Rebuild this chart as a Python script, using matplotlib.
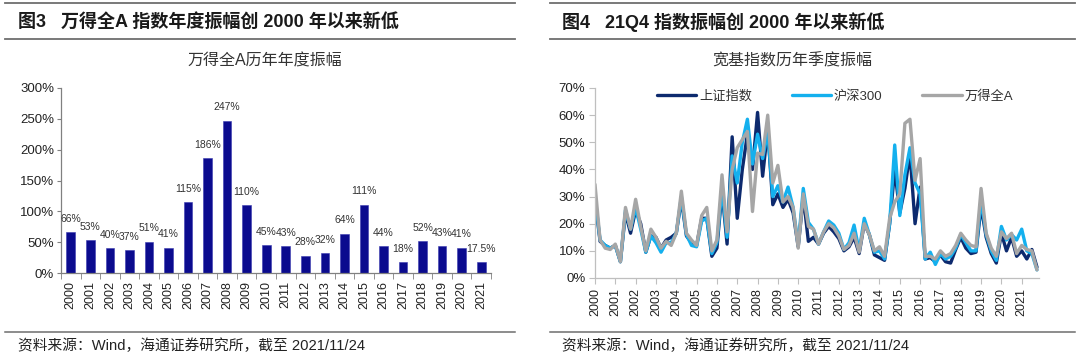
import matplotlib
matplotlib.use("Agg")
import matplotlib.pyplot as plt
from matplotlib.lines import Line2D
from matplotlib.ticker import FuncFormatter, FixedLocator
import numpy as np

plt.rcParams['font.family'] = ['Liberation Sans', 'Noto Sans CJK SC', 'DejaVu Sans']

W, H = 1080, 359

# ---- data: left chart (annual amplitude of Wind All A) ----
years = [str(y) for y in range(2000, 2022)]
annual_amp = [66, 53, 40, 37, 51, 41, 115, 186, 247, 110, 45, 43, 28, 32,
              64, 111, 44, 18, 52, 43, 41, 17.5]

# ---- data: right chart (quarterly amplitude, %, 2000Q1..2021Q4) ----
sh_index = [29, 13.5, 12, 11, 12, 6, 24, 16.5, 25, 20, 9.5, 15.5,
            15, 11, 14, 15, 16.5, 29, 15.5, 13, 12, 22, 22, 8,
            11, 32, 12.5, 52, 22, 40, 53, 40, 61, 37.5, 55, 27,
            31, 26, 29, 24, 11.5, 30, 13.5, 15, 12.5, 16.5, 19, 17,
            14.5, 10, 11.5, 15, 9, 20, 16, 8.5, 7.5, 6.5, 20, 40,
            24, 33, 46, 20, 33.5, 7, 7.5, 6, 8.5, 6, 5.5, 10.5,
            15, 11, 9, 9.5, 26.5, 15, 9, 5.5, 16.5, 10, 15, 8,
            10, 7, 10.5, 4]
hs300 = [30, 14, 12, 11, 12, 6, 25, 18, 26, 18, 9.5, 15.5,
         13, 9.5, 13, 13, 16.5, 30, 16, 12, 11.5, 21, 22, 9,
         13, 33, 15, 45, 35, 50, 58.5, 42, 53, 44, 54, 30,
         34, 28, 33.5, 26, 12, 33, 20.5, 18, 12.5, 17, 21, 19.5,
         16.5, 10.5, 13, 19.5, 10, 22, 16, 9.5, 10, 7, 20, 49,
         23, 38, 48, 35, 31, 7, 9.5, 5, 9, 7, 8, 11,
         16, 13, 10, 10, 29, 16, 10, 6.5, 19, 14, 16, 14,
         18, 10, 9, 3]
wind_a = [34.5, 14, 11, 10.5, 12.5, 6, 26, 18, 29, 19, 10, 18,
          15, 11, 13.5, 12, 16.5, 32, 16.5, 14, 12, 23, 26, 10,
          14, 38, 17, 40, 48, 51, 54, 24.5, 46, 45.5, 60, 35,
          41.5, 28, 30, 26, 11, 31, 19, 18, 12.5, 17, 20, 18.5,
          15.5, 10.5, 12, 16.5, 9.5, 20, 16, 10, 11.5, 8, 22, 28,
          31, 57, 58.5, 36, 44, 8, 8, 7, 10, 8, 9, 12,
          16.5, 14, 12, 11.5, 33, 16.5, 11, 8, 17, 14.5, 16.5, 9,
          12, 10.5, 10, 3]
series_names = ['上证指数', '沪深300', '万得全A']
series_colors = ['#0D2A6E', '#14B0EE', '#A6A6A6']

titles = ['图3   万得全A 指数年度振幅创 2000 年以来新低',
          '图4   21Q4 指数振幅创 2000 年以来新低']
subtitles = ['万得全A历年年度振幅', '宽基指数历年季度振幅']
source = '资料来源：Wind，海通证券研究所，截至 2021/11/24'

fig = plt.figure(figsize=(W / 100, H / 100), dpi=100)


def fx(x):
    return x / W


def fy(y):
    return 1 - y / H


def hline(x0, x1, y, lw=1.2):
    fig.add_artist(Line2D([fx(x0), fx(x1)], [fy(y), fy(y)],
                          transform=fig.transFigure, color='#6E6E6E', lw=lw))


# frame rules and headings
for (x0, x1, tx, sx, srcx), title, sub in zip(
        [(5, 515, 18, 265, 18), (550, 1075, 562, 792, 562)], titles, subtitles):
    hline(x0, x1, 3, 1.3)
    hline(x0, x1, 39, 1.3)
    hline(x0, x1, 332, 1.1)
    fig.text(fx(tx), fy(22), title, fontsize=13, fontweight='bold',
             color='#1A1A1A', va='center', ha='left')
    fig.text(fx(sx), fy(61), sub, fontsize=11.5, color='#333333',
             va='center', ha='center')
    fig.text(fx(srcx), fy(346), source, fontsize=10.6, color='#222222',
             va='center', ha='left')

pct = FuncFormatter(lambda v, p: f'{v:.0f}%')

# ---- left: bar chart ----
ax1 = fig.add_axes([fx(61), fy(273), fx(491) - fx(61), fy(88) - fy(273)])
x = np.arange(len(years))
ax1.bar(x, annual_amp, width=0.44, color='#0B0B8E', edgecolor='#3A3AB0', lw=0.4)
for xi, v in zip(x, annual_amp):
    ax1.annotate(f'{v:g}%', (xi, v), xytext=(0, 6), textcoords='offset points',
                 ha='center', va='bottom', fontsize=7.5, color='#333333')
ax1.set_xlim(-0.5, len(years) - 0.5)
ax1.set_ylim(0, 300)
ax1.set_yticks(np.arange(0, 301, 50))
ax1.yaxis.set_major_formatter(pct)
ax1.set_xticks(x)
ax1.set_xticklabels(years, rotation=90, fontsize=9, color='#222222')
ax1.xaxis.set_minor_locator(FixedLocator(np.arange(-0.5, len(years), 1)))
ax1.tick_params(axis='x', which='major', length=0, pad=6)
ax1.tick_params(axis='x', which='minor', length=4, color='#808080', direction='out')
ax1.tick_params(axis='y', length=3, color='#808080', labelsize=9.5,
                labelcolor='#222222', pad=2)
for s in ['top', 'right']:
    ax1.spines[s].set_visible(False)
for s in ['left', 'bottom']:
    ax1.spines[s].set_color('#808080')
    ax1.spines[s].set_linewidth(0.9)

# ---- right: line chart ----
ax2 = fig.add_axes([fx(595), fy(278), fx(1039) - fx(595), fy(88) - fy(278)])
q = np.arange(len(wind_a))
for vals, name, col in zip([sh_index, hs300, wind_a], series_names, series_colors):
    ax2.plot(q, vals, color=col, lw=2.4, label=name, solid_joinstyle='round',
             solid_capstyle='round')
ax2.set_xlim(0, len(wind_a) - 0.6)
ax2.set_ylim(0, 70)
ax2.set_yticks(np.arange(0, 71, 10))
ax2.yaxis.set_major_formatter(pct)
ax2.set_xticks(np.arange(0, len(wind_a), 4))
ax2.set_xticklabels(years, rotation=90, fontsize=9, color='#222222')
ax2.tick_params(axis='x', length=4, color='#BFBFBF', pad=3)
ax2.tick_params(axis='y', length=4, color='#BFBFBF', labelsize=9.5,
                labelcolor='#222222', pad=3)
for s in ['top', 'right']:
    ax2.spines[s].set_visible(False)
for s in ['left', 'bottom']:
    ax2.spines[s].set_color('#BFBFBF')
    ax2.spines[s].set_linewidth(0.9)
leg = ax2.legend(loc='upper center', bbox_to_anchor=(0.54, 1.05), ncol=3,
                 frameon=False, fontsize=9.5, handlelength=3.0,
                 columnspacing=3.0, handletextpad=0.2)
for t in leg.get_texts():
    t.set_color('#333333')

fig.savefig('out.png', dpi=100)
